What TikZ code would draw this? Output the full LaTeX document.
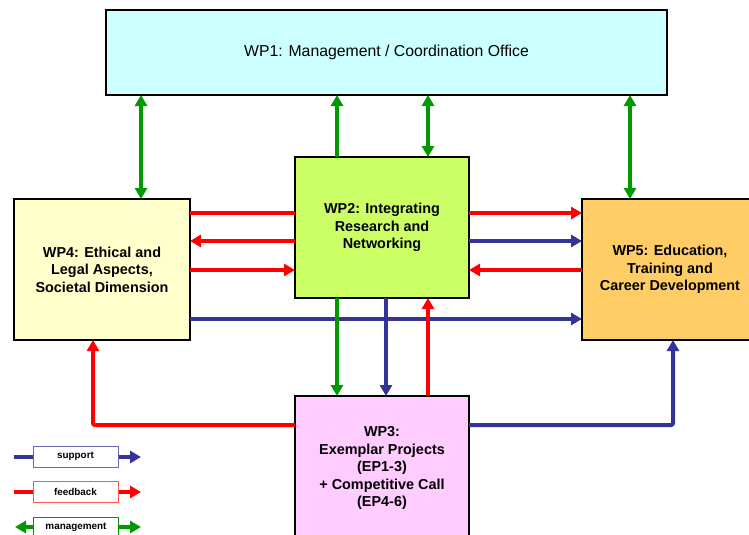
\documentclass[tikz,border=0pt]{standalone}
\usepackage{fontspec}
\setmainfont{Liberation Sans}
\usetikzlibrary{arrows.meta}
\definecolor{cWPone}{HTML}{CCFFFF}
\definecolor{cWPtwo}{HTML}{CCFF66}
\definecolor{cWPthree}{HTML}{FFCCFF}
\definecolor{cWPfour}{HTML}{FFFFCC}
\definecolor{cWPfive}{HTML}{FFCC66}
\definecolor{cgreen}{HTML}{009900}
\definecolor{cred}{HTML}{FF0000}
\definecolor{cblue}{HTML}{333399}
\definecolor{cbluebox}{HTML}{6666BB}
\definecolor{credbox}{HTML}{FF5555}
\tikzset{
  wpbox/.style={draw=black, line width=2.6pt, inner sep=0pt, outer sep=0pt, align=center,
     font=\fontsize{14.4}{17.5}\selectfont\bfseries},
  tip/.style={-{Triangle[width=12pt,length=11pt]}},
  bitip/.style={{Triangle[width=12pt,length=11pt]}-{Triangle[width=12pt,length=11pt]}},
  fb/.style={draw=cred, line width=4pt, tip},
  fbplain/.style={draw=cred, line width=4pt},
  sp/.style={draw=cblue, line width=4pt, tip},
  mg/.style={draw=cgreen, line width=4pt, tip},
  mgbi/.style={draw=cgreen, line width=4pt, bitip},
  legbox/.style={fill=white, line width=1pt, minimum width=85pt, minimum height=21pt, inner sep=0pt,
     font=\fontsize{9.9}{11}\selectfont\bfseries}
}
\begin{document}
\begin{tikzpicture}[x=1pt,y=-1pt]
\useasboundingbox (0,0) rectangle (749,535);
% boxes
\node[wpbox, fill=cWPone, minimum width=561pt, minimum height=85pt,
      font=\fontsize{15.8}{18}\selectfont] (wp1) at (386.5,52.5) {WP1: Management / Coordination Office};
\node[wpbox, fill=cWPtwo, minimum width=174pt, minimum height=141pt] (wp2) at (382,227.5)
   {WP2: Integrating\\Research and\\Networking};
\node[wpbox, fill=cWPfour, minimum width=176pt, minimum height=141pt] (wp4) at (102,269.5)
   {WP4: Ethical and\\Legal Aspects,\\Societal Dimension};
\node[wpbox, fill=cWPfive, minimum width=176pt, minimum height=141pt] (wp5) at (670,269.5)
   {WP5: Education,\\Training and\\Career Development};
\node[wpbox, fill=cWPthree, minimum width=174pt, minimum height=144pt] (wp3) at (382,468)
   {WP3:\\Exemplar Projects\\(EP1-3)\\+ Competitive Call\\(EP4-6)};
% column / row helper coordinates
\coordinate (xa) at (141,0);
\coordinate (xb) at (337,0);
\coordinate (xc) at (386,0);
\coordinate (xd) at (428,0);
\coordinate (xe) at (630,0);
\coordinate (xf) at (93,0);
\coordinate (xg) at (673,0);
\coordinate (ya) at (0,213);
\coordinate (yb) at (0,241);
\coordinate (yc) at (0,270);
\coordinate (yd) at (0,319);
\coordinate (ye) at (0,425);
% management arrows
\draw[mgbi] (wp1.south -| xa) -- (wp4.north -| xa);
\draw[mg] (wp2.north -| xb) -- (wp1.south -| xb);
\draw[mgbi] (wp1.south -| xd) -- (wp2.north -| xd);
\draw[mgbi] (wp1.south -| xe) -- (wp5.north -| xe);
% WP4 <-> WP2
\draw[fbplain] (wp4.east |- ya) -- (wp2.west |- ya);
\draw[fb] (wp2.west |- yb) -- (wp4.east |- yb);
\draw[fb] (wp4.east |- yc) -- (wp2.west |- yc);
% WP2 <-> WP5
\draw[fb] (wp2.east |- ya) -- (wp5.west |- ya);
\draw[sp] (wp2.east |- yb) -- (wp5.west |- yb);
\draw[fb] (wp5.west |- yc) -- (wp2.east |- yc);
% WP4 -> WP5 support
\draw[sp] (wp4.east |- yd) -- (wp5.west |- yd);
% WP2 <-> WP3
\draw[mg] (wp2.south -| xb) -- (wp3.north -| xb);
\draw[sp] (wp2.south -| xc) -- (wp3.north -| xc);
\draw[fb] (wp3.north -| xd) -- (wp2.south -| xd);
% WP3 -> WP4, WP3 -> WP5
\draw[fb, rounded corners=2pt] (wp3.west |- ye) -- (xf |- ye) -- (wp4.south -| xf);
\draw[sp, rounded corners=2pt] (wp3.east |- ye) -- (xg |- ye) -- (wp5.south -| xg);
% legend
\coordinate (la) at (14,457);
\coordinate (lb) at (141,457);
\coordinate (lc) at (14,492);
\coordinate (ld) at (141,492);
\coordinate (le) at (15,527);
\coordinate (lf) at (141,527);
\draw[sp] (la) -- (lb);
\node[legbox, draw=cbluebox] (lsup) at (75.5,456.5) {support};
\draw[fb] (lc) -- (ld);
\node[legbox, draw=credbox] (lfb) at (75.5,492) {feedback};
\draw[mgbi] (le) -- (lf);
\node[legbox, draw=cgreen] (lmg) at (76,527.5) {management};
\end{tikzpicture}
\end{document}
